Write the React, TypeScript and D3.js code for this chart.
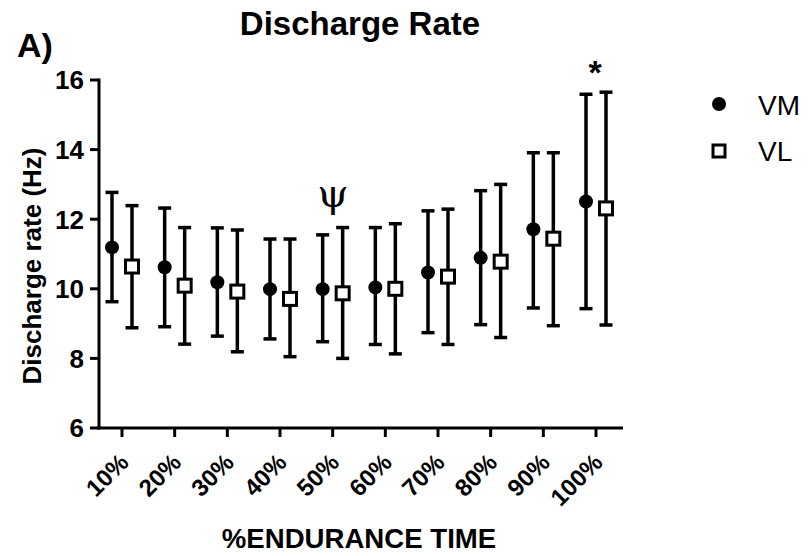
import React from "react";
import * as d3 from "d3";

const categories = ["10%", "20%", "30%", "40%", "50%", "60%", "70%", "80%", "90%", "100%"];
const vmMean = [11.19, 10.62, 10.19, 9.99, 9.99, 10.04, 10.47, 10.89, 11.71, 12.51];
const vmUpper = [12.77, 12.32, 11.75, 11.43, 11.55, 11.76, 12.24, 12.82, 13.91, 15.59];
const vmLower = [9.63, 8.91, 8.64, 8.56, 8.48, 8.40, 8.74, 8.97, 9.45, 9.43];
const vlMean = [10.64, 10.09, 9.92, 9.71, 9.87, 10.0, 10.35, 10.78, 11.44, 12.31];
const vlUpper = [12.39, 11.76, 11.69, 11.43, 11.76, 11.87, 12.29, 13.0, 13.91, 15.65];
const vlLower = [8.88, 8.41, 8.19, 8.05, 8.0, 8.13, 8.40, 8.60, 8.94, 8.96];
const yTicks = [6, 8, 10, 12, 14, 16];
const seriesNames = ["VM", "VL"];

const FONT = "Arial, 'Liberation Sans', Helvetica, sans-serif";

export default function App() {
  const W = 810;
  const H = 556;
  const x = d3.scalePoint<string>().domain(categories).range([122, 596]);
  const y = d3.scaleLinear().domain([6, 16]).range([428, 80]);
  const axisLeft = 99;
  const axisRight = 623;
  const capW = 13;
  const off = 10;

  const series = [
    { name: seriesNames[0], mean: vmMean, up: vmUpper, lo: vmLower, dx: -off, kind: "circle" },
    { name: seriesNames[1], mean: vlMean, up: vlUpper, lo: vlLower, dx: off, kind: "square" },
  ];

  return (
    <svg width={W} height={H} style={{ position: "absolute", left: 0, top: 0, background: "#fff" }}>
      <rect x={0} y={0} width={W} height={H} fill="#fff" />
      {/* title */}
      <text x={360} y={35} textAnchor="middle" fontFamily={FONT} fontWeight="bold" fontSize={33} fill="#000">
        Discharge Rate
      </text>
      <text x={17} y={57} fontFamily={FONT} fontWeight="bold" fontSize={34} fill="#000">
        A)
      </text>

      {/* y axis */}
      <line x1={axisLeft} x2={axisLeft} y1={y(16) - 1.5} y2={y(6) + 1.5} stroke="#000" strokeWidth={3} />
      {yTicks.map((t) => (
        <g key={t}>
          <line x1={axisLeft - 9} x2={axisLeft} y1={y(t)} y2={y(t)} stroke="#000" strokeWidth={3} />
          <text x={84} y={y(t)} dy="0.36em" textAnchor="end" fontFamily={FONT} fontWeight="bold" fontSize={26} fill="#000">
            {t}
          </text>
        </g>
      ))}
      <text
        transform={`translate(41,266) rotate(-90)`}
        textAnchor="middle"
        fontFamily={FONT}
        fontWeight="bold"
        fontSize={26}
        fill="#000"
      >
        Discharge rate (Hz)
      </text>

      {/* x axis */}
      <line x1={axisLeft - 1.5} x2={axisRight} y1={y(6)} y2={y(6)} stroke="#000" strokeWidth={3} />
      {categories.map((c) => (
        <g key={c}>
          <line x1={x(c)!} x2={x(c)!} y1={y(6)} y2={y(6) + 9} stroke="#000" strokeWidth={3} />
          <text
            transform={`translate(${x(c)! + 8},464) rotate(-45)`}
            textAnchor="end"
            fontFamily={FONT}
            fontWeight="bold"
            fontSize={24}
            fill="#000"
          >
            {c}
          </text>
        </g>
      ))}
      <text x={359} y={548} textAnchor="middle" fontFamily={FONT} fontWeight="bold" fontSize={27.6} fill="#000">
        %ENDURANCE TIME
      </text>

      {/* error bars & points */}
      {series.map((s) => (
        <g key={s.name}>
          {categories.map((c, i) => {
            const cx = x(c)! + s.dx;
            return (
              <g key={c}>
                <line x1={cx} x2={cx} y1={y(s.up[i])} y2={y(s.lo[i])} stroke="#000" strokeWidth={3.5} />
                <line x1={cx - capW / 2} x2={cx + capW / 2} y1={y(s.up[i])} y2={y(s.up[i])} stroke="#000" strokeWidth={3.5} />
                <line x1={cx - capW / 2} x2={cx + capW / 2} y1={y(s.lo[i])} y2={y(s.lo[i])} stroke="#000" strokeWidth={3.5} />
                {s.kind === "circle" ? (
                  <circle cx={cx} cy={y(s.mean[i])} r={7} fill="#000" />
                ) : (
                  <rect x={cx - 6.5} y={y(s.mean[i]) - 6.5} width={13} height={13} fill="#fff" stroke="#000" strokeWidth={3} />
                )}
              </g>
            );
          })}
        </g>
      ))}

      {/* annotations */}
      <text x={333} y={207} textAnchor="middle" fontFamily="'DejaVu Serif', 'Liberation Serif', serif" fontSize={40} fill="#000">
        ψ
      </text>
      <text x={595} y={84} textAnchor="middle" fontFamily={FONT} fontWeight="bold" fontSize={34} fill="#000">
        *
      </text>

      {/* legend */}
      <circle cx={719} cy={104} r={7} fill="#000" />
      <text x={758} y={115} fontFamily={FONT} fontSize={28} fill="#000">
        {seriesNames[0]}
      </text>
      <rect x={713} y={145} width={12} height={12} fill="#fff" stroke="#000" strokeWidth={3} />
      <text x={758} y={161} fontFamily={FONT} fontSize={28} fill="#000">
        {seriesNames[1]}
      </text>
    </svg>
  );
}
